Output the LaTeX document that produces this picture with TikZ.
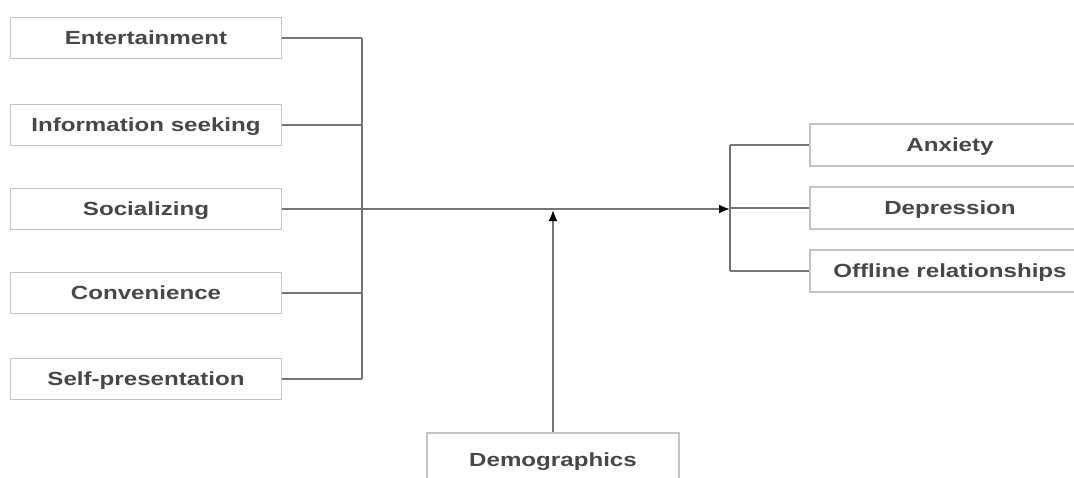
\documentclass[tikz,border=0pt]{standalone}
\usepackage{fontspec}
\newfontfamily\boxfont[FakeStretch=1.27]{Liberation Sans}
\usetikzlibrary{positioning,arrows.meta,calc}
\definecolor{boxgray}{HTML}{C4C4C4}
\definecolor{linegray}{HTML}{757575}
\definecolor{textgray}{HTML}{474747}

\begin{document}
\begin{tikzpicture}[
    x=1pt,y=1pt,
    box/.style={rectangle,draw=boxgray,line width=1.5pt,minimum width=271pt,minimum height=41pt,
        text depth=0pt,text=textgray,font=\boxfont\bfseries\fontsize{19}{22}\selectfont},
    rbox/.style={box,minimum width=280pt,minimum height=42pt},
    conn/.style={draw=linegray,line width=1.8pt},
    arrow/.style={conn,-{Latex[length=11pt,width=9pt,color=black]}}
]
\useasboundingbox (0,0) rectangle (1074,-477);

% Predictors (left column)
\node[box] (ent)  at (146,-38)  {Entertainment};
\node[box] (info) at (146,-125) {Information seeking};
\node[box] (soc)  at (146,-209) {Socializing};
\node[box] (conv) at (146,-293) {Convenience};
\node[box] (self) at (146,-379) {Self-presentation};

% Outcomes (right column)
\node[rbox] (anx) at (950,-145) {Anxiety};
\node[rbox] (dep) at (950,-208) {Depression};
\node[rbox] (off) at (950,-271) {Offline relationships};

% Moderator
\node[box,minimum width=252pt,minimum height=54pt] (demo) at (553,-460) {Demographics};

% bus lines
\coordinate (lbus) at (362,0);
\coordinate (rbus) at (730,0);

% Predictors to the left bus
\foreach \n in {ent,info,soc,conv,self} {
    \draw[conn] (\n.east) -- (\n.east -| lbus);
}
\draw[conn] (ent.east -| lbus) -- (self.east -| lbus);

% Main path
\draw[arrow] (soc.east) -- (soc.east -| rbus);

% Right bus to outcomes
\draw[conn] (anx.west -| rbus) -- (off.west -| rbus);
\foreach \n in {anx,dep,off} {
    \draw[conn] (\n.west -| rbus) -- (\n.west);
}

% Demographics up to the main path
\draw[arrow] (demo.north) -- ($(demo.north |- soc.east)+(0,-1)$);

\end{tikzpicture}
\end{document}
